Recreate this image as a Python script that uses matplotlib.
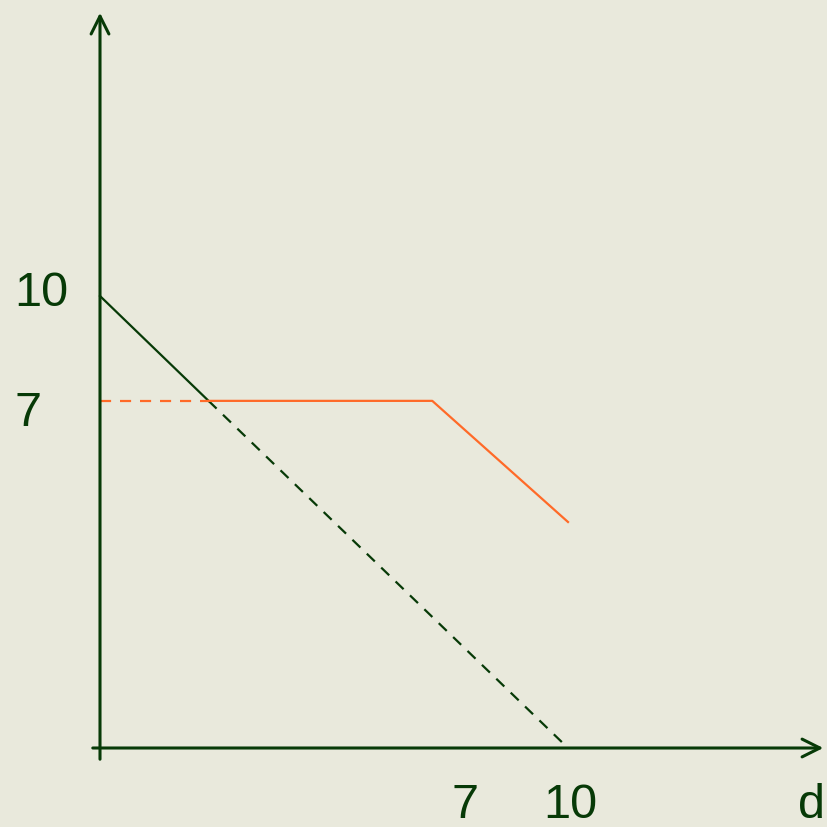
import matplotlib.pyplot as plt
import numpy as np

plt.rcParams['font.family'] = ['Liberation Sans', 'DejaVu Sans']

BG = '#E9E9DC'
DARK = '#073A07'
ORANGE = '#FF6A28'

# falling line (schematic units)
line_x = [0, 10]
line_y = [10, 0]
# orange line: flat part then falling part
flat_level = 7.68
kink_x = 7.1
end_point = (10, 5.0)

x_ticks = [7, 10]
x_tick_pos = [7.8, 10.05]
y_ticks = [10, 7]
y_tick_pos = [10.05, 7.4]

fig = plt.figure(figsize=(8.27, 8.27), dpi=100, facecolor=BG)
ax = fig.add_axes([0, 0, 1, 1])
ax.set_facecolor(BG)
ax.set_xlim(-100 / 46.8, 727 / 46.8)
ax.set_ylim(-79 / 45.2, 748 / 45.2)
ax.axis('off')

# intersection of falling line with flat orange level
d_cross = np.interp(flat_level, line_y[::-1], line_x[::-1])

# axes with open arrow heads
arrow = dict(arrowstyle='->', color=DARK, lw=2.2, mutation_scale=32)
ax.annotate('', xy=(727 / 46.8 - 0.02, 0), xytext=(-10 / 46.8, 0), arrowprops=arrow)
ax.annotate('', xy=(0, 738 / 45.2), xytext=(0, -14 / 45.2), arrowprops=arrow)

# falling line: solid to the crossing, dashed after
ax.plot([line_x[0], d_cross], [line_y[0], flat_level], color=DARK, lw=1.6)
ax.plot([d_cross, line_x[1]], [flat_level, line_y[1]], color=DARK, lw=1.6,
        dashes=(5, 4))

# orange line
ax.plot([0, d_cross], [flat_level, flat_level], color=ORANGE, lw=1.6, dashes=(5, 4))
ax.plot([d_cross, kink_x, end_point[0]], [flat_level, flat_level, end_point[1]],
        color=ORANGE, lw=1.6)

for lab, pos in zip(x_ticks, x_tick_pos):
    ax.text(pos, -1.28, str(lab), color=DARK, fontsize=35, ha='center', va='center')
ax.text(15.5, -1.28, 'd', color=DARK, fontsize=35, ha='right', va='center')
for lab, pos in zip(y_ticks, y_tick_pos):
    ax.text(-1.83, pos, str(lab), color=DARK, fontsize=35, ha='left', va='center')

fig.savefig('out.png', dpi=100, facecolor=BG)
